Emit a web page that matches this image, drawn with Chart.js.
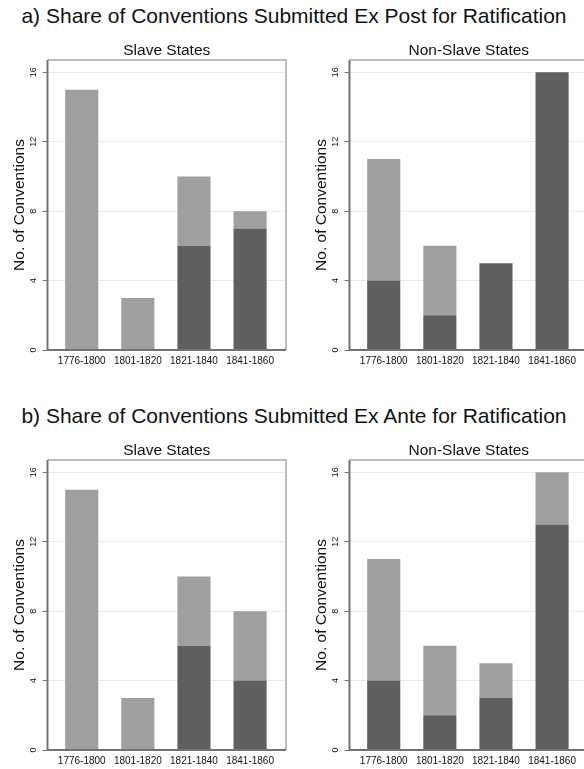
<!DOCTYPE html>
<html>
<head>
<meta charset="utf-8">
<script src="https://cdn.jsdelivr.net/npm/chart.js@4"></script>
<style>
  html, body { margin: 0; padding: 0; background: #fff; }
  body {
    width: 584px; height: 769px; overflow: hidden; position: relative;
    font-family: "Liberation Sans", Arial, Helvetica, sans-serif;
  }
  .main-title {
    position: absolute; left: 0; width: 588px; text-align: center;
    font-size: 21px; line-height: 21px; color: #111; white-space: nowrap;
  }
  canvas { position: absolute; }
</style>
</head>
<body>
<div class="main-title" style="top:5px">a) Share of Conventions Submitted Ex Post for Ratification</div>
<div class="main-title" style="top:405px">b) Share of Conventions Submitted Ex Ante for Ratification</div>
<canvas id="postSlave" width="302" height="340" style="left:0;top:40px"></canvas>
<canvas id="postFree" width="302" height="340" style="left:302px;top:40px"></canvas>
<canvas id="anteSlave" width="302" height="340" style="left:0;top:440px"></canvas>
<canvas id="anteFree" width="302" height="340" style="left:302px;top:440px"></canvas>

<script>
// Periods on the horizontal axis and the value ticks on the vertical axis
const periods = ['1776-1800', '1801-1820', '1821-1840', '1841-1860'];
const yTicks = [0, 4, 8, 12, 16];

// Number of conventions per period: lower (dark) and upper (light) segments
const postSlaveDark  = [0, 0, 6, 7];
const postSlaveLight = [15, 3, 4, 1];
const postFreeDark   = [4, 2, 5, 16];
const postFreeLight  = [7, 4, 0, 0];

const anteSlaveDark  = [0, 0, 6, 4];
const anteSlaveLight = [15, 3, 4, 4];
const anteFreeDark   = [4, 2, 3, 13];
const anteFreeLight  = [7, 4, 2, 3];

const FONT = '"Liberation Sans", Arial, Helvetica, sans-serif';
const DARK = '#5f5f5f';
const LIGHT = '#a0a0a0';

// Plot-region frame: light top/right edges, darker axis lines on left/bottom
const framePlugin = {
  id: 'frame',
  afterDatasetsDraw(chart) {
    const { ctx, chartArea: a } = chart;
    ctx.save();
    ctx.lineWidth = 1.5;
    ctx.strokeStyle = '#a8a8a8';
    ctx.beginPath();
    ctx.moveTo(a.left, a.top);
    ctx.lineTo(a.right, a.top);
    ctx.lineTo(a.right, a.bottom);
    ctx.stroke();
    ctx.lineWidth = 2;
    ctx.strokeStyle = '#727272';
    ctx.beginPath();
    ctx.moveTo(a.left, a.top);
    ctx.lineTo(a.left, a.bottom);
    ctx.lineTo(a.right, a.bottom);
    ctx.stroke();
    ctx.restore();
  }
};

function toPoints(values) {
  return values.map((y, i) => ({ x: i, y }));
}

function makePanel(id, title, dark, light) {
  return new Chart(document.getElementById(id), {
    type: 'bar',
    data: {
      datasets: [
        { label: 'dark', data: toPoints(dark), backgroundColor: DARK, borderWidth: 0 },
        { label: 'light', data: toPoints(light), backgroundColor: LIGHT, borderWidth: 0 }
      ]
    },
    options: {
      responsive: false,
      animation: false,
      devicePixelRatio: 1,
      layout: { padding: { left: 0, right: 16, top: 0, bottom: 0 } },
      datasets: { bar: { barPercentage: 0.59, categoryPercentage: 1 } },
      plugins: {
        legend: { display: false },
        tooltip: { enabled: false },
        title: {
          display: true, text: title, fullSize: false, color: '#111',
          font: { family: FONT, size: 15.5, weight: 'normal', lineHeight: 1.2 },
          padding: { top: 1.2, bottom: 0.2 }
        }
      },
      scales: {
        x: {
          type: 'linear', stacked: true, min: -0.61, max: 3.64, offset: false,
          grid: { display: false, drawTicks: false },
          border: { display: false },
          afterBuildTicks: s => { s.ticks = periods.map((_, i) => ({ value: i })); },
          afterFit: s => { s.height = 30; },
          ticks: {
            autoSkip: false, minRotation: 0, maxRotation: 0, padding: 5, color: '#111',
            font: { family: FONT, size: 10 },
            callback: v => periods[v]
          }
        },
        y: {
          stacked: true, min: 0, max: 16.71,
          afterBuildTicks: s => { s.ticks = yTicks.map(v => ({ value: v })); },
          afterFit: s => { s.width = 47.5; },
          grid: { color: '#e9e9e9', lineWidth: 1, tickColor: '#727272', tickLength: 5, tickWidth: 1 },
          border: { display: false },
          ticks: {
            minRotation: 90, maxRotation: 90, crossAlign: 'center', padding: 3.5, color: '#111',
            font: { family: FONT, size: 9 }
          },
          title: {
            display: true, text: 'No. of Conventions', color: '#111',
            font: { family: FONT, size: 15.5 },
            padding: { top: 10, bottom: 0 }
          }
        }
      }
    },
    plugins: [framePlugin]
  });
}

makePanel('postSlave', 'Slave States', postSlaveDark, postSlaveLight);
makePanel('postFree', 'Non-Slave States', postFreeDark, postFreeLight);
makePanel('anteSlave', 'Slave States', anteSlaveDark, anteSlaveLight);
makePanel('anteFree', 'Non-Slave States', anteFreeDark, anteFreeLight);
</script>
</body>
</html>
